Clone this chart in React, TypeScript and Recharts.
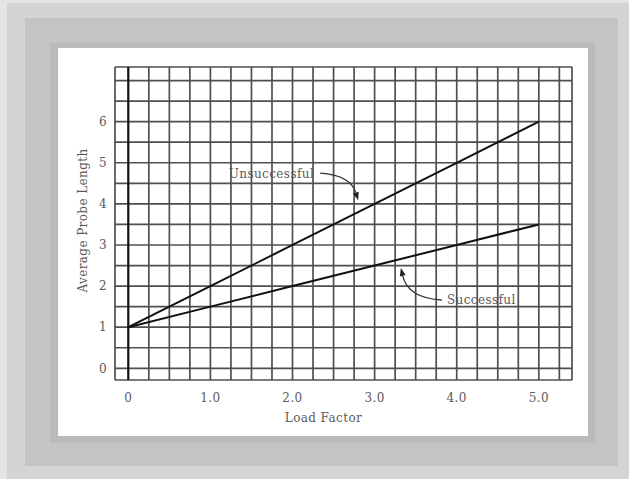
import { LineChart, Line, XAxis, YAxis, CartesianGrid, ReferenceLine, ReferenceDot } from "recharts";

// values
const loadFactor = [0, 1, 2, 3, 4, 5];
const unsuccessful = [1, 2, 3, 4, 5, 6];
const successful = [1, 1.5, 2, 2.5, 3, 3.5];

// grid ticks (quarter steps on x, half steps on y)
const xTicks = [0, 0.25, 0.5, 0.75, 1, 1.25, 1.5, 1.75, 2, 2.25, 2.5, 2.75, 3, 3.25, 3.5, 3.75, 4, 4.25, 4.5, 4.75, 5, 5.25];
const yTicks = [0, 0.5, 1, 1.5, 2, 2.5, 3, 3.5, 4, 4.5, 5, 5.5, 6, 6.5, 7];
const xLabels = [0, 1, 2, 3, 4, 5];
const yLabels = [0, 1, 2, 3, 4, 5, 6];

// where the two callout arrows point
const unsuccessfulNote = { load: 2.8, value: 4.09 };
const successfulNote = { load: 3.32, value: 2.44 };

const chartData = loadFactor.map((load, i) => ({
  load,
  unsuccessful: unsuccessful[i],
  successful: successful[i],
}));

const FONT = "'DejaVu Serif', 'Liberation Serif', serif";
const TEXT = "#5a5a5a";
const textStyle = { fontFamily: FONT, fontSize: 12, fill: TEXT, letterSpacing: 0.4 };

// small filled arrowhead, tip at (tx,ty), coming from (fx,fy)
const arrowHead = (tx: number, ty: number, fx: number, fy: number) => {
  const len = Math.hypot(tx - fx, ty - fy);
  const ux = (tx - fx) / len;
  const uy = (ty - fy) / len;
  const bx = tx - ux * 8;
  const by = ty - uy * 8;
  const px = -uy * 3;
  const py = ux * 3;
  return `M${tx},${ty} L${bx + px},${by + py} L${bx - px},${by - py} Z`;
};

const UnsuccessfulShape = ({ cx, cy }: any) => (
  <g>
    <text x={cx - 44} y={cy - 22} textAnchor="end" style={textStyle}>
      Unsuccessful
    </text>
    <path
      d={`M${cx - 38},${cy - 27} Q${cx - 8},${cy - 25} ${cx - 2.4},${cy - 7.6}`}
      fill="none"
      stroke="#333"
      strokeWidth={1.3}
    />
    <path d={arrowHead(cx, cy, cx - 8, cy - 25)} fill="#222" />
  </g>
);

const SuccessfulShape = ({ cx, cy }: any) => (
  <g>
    <text x={cx + 46} y={cy + 36} textAnchor="start" style={textStyle}>
      Successful
    </text>
    <path
      d={`M${cx + 41},${cy + 32} Q${cx + 7},${cy + 30} ${cx + 1.8},${cy + 7.8}`}
      fill="none"
      stroke="#333"
      strokeWidth={1.3}
    />
    <path d={arrowHead(cx, cy, cx + 7, cy + 30)} fill="#222" />
  </g>
);

const fmtX = (v: number) => (xLabels.includes(v) ? (v === 0 ? "0" : v.toFixed(1)) : "");
const fmtY = (v: number) => (yLabels.includes(v) ? String(v) : "");

export default function App() {
  return (
    <div style={{ position: "absolute", left: 0, top: 0, width: 629, height: 479, background: "#e4e4e4", overflow: "hidden" }}>
      {/* layered grey frame */}
      <div style={{ position: "absolute", left: 7, top: 3, right: 0, bottom: 0, background: "#d4d4d4" }} />
      <div style={{ position: "absolute", left: 25, top: 18, width: 593, height: 448, background: "#c4c4c4" }} />
      <div style={{ position: "absolute", left: 50, top: 43, width: 545, height: 400, background: "#bababa" }} />
      <div style={{ position: "absolute", left: 58, top: 48, width: 530, height: 388, background: "#ffffff" }}>
        <LineChart
          width={530}
          height={388}
          data={chartData}
          margin={{ top: 19, right: 16, bottom: 0, left: 0 }}
        >
          <CartesianGrid stroke="#4f4f4f" strokeWidth={1.7} />
          <XAxis
            dataKey="load"
            type="number"
            domain={[-0.162, 5.404]}
            allowDataOverflow
            ticks={xTicks}
            interval={0}
            tickFormatter={fmtX}
            axisLine={false}
            tickLine={false}
            tickMargin={7}
            height={56}
            tick={textStyle}
            label={{ value: "Load Factor", position: "center", dx: -20, dy: 10, style: textStyle }}
          />
          <YAxis
            type="number"
            domain={[-0.285, 7.33]}
            allowDataOverflow
            ticks={yTicks}
            interval={0}
            tickFormatter={fmtY}
            axisLine={false}
            tickLine={false}
            width={57}
            tick={textStyle}
            label={{ value: "Average Probe Length", angle: -90, position: "center", dx: -4, dy: -3, style: textStyle }}
          />
          <ReferenceLine x={0} stroke="#111" strokeWidth={2} />
          <Line
            type="linear"
            dataKey="unsuccessful"
            stroke="#111"
            strokeWidth={2}
            dot={false}
            isAnimationActive={false}
          />
          <Line
            type="linear"
            dataKey="successful"
            stroke="#111"
            strokeWidth={2}
            dot={false}
            isAnimationActive={false}
          />
          <ReferenceDot x={unsuccessfulNote.load} y={unsuccessfulNote.value} r={0} shape={UnsuccessfulShape} />
          <ReferenceDot x={successfulNote.load} y={successfulNote.value} r={0} shape={SuccessfulShape} />
        </LineChart>
      </div>
    </div>
  );
}
